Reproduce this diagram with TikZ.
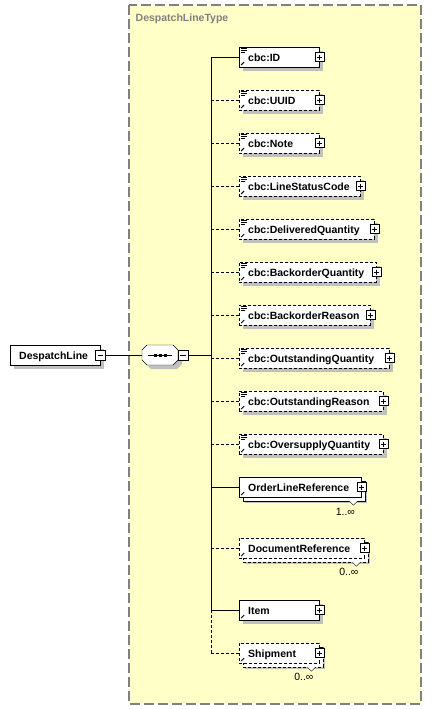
\documentclass[tikz,border=0pt]{standalone}
\usepackage{fontspec}
\setmainfont{Liberation Sans}
\usetikzlibrary{shadows}

\definecolor{typebg}{HTML}{FFFFC8}
\definecolor{typeline}{HTML}{808080}
\definecolor{shadowgray}{HTML}{C0C0C0}

\newcommand{\namefont}{\bfseries\fontsize{10.5}{12}\selectfont}
\newcommand{\multfont}{\fontsize{10.5}{12}\selectfont}
% small icons inside the boxes
\newcommand{\reficon}{%
  \draw[solid, line width=1pt] ([shift={(2,-2)}]path picture bounding box.south west) -- ++(3,-3);
  \fill ([shift={(7,-7)}]path picture bounding box.south west) -- ++(-3.5,0) -- ++(3.5,3.5) -- cycle;}
\newcommand{\docicon}{%
  \draw[solid, line width=0.8pt] ([shift={(2,1.5)}]path picture bounding box.north west) -- ++(6,0)
    ([shift={(2,3.5)}]path picture bounding box.north west) -- ++(6,0)
    ([shift={(2,5.5)}]path picture bounding box.north west) -- ++(4,0);}
\newcommand{\seqicon}{%
  \draw[solid] ([xshift=6pt]path picture bounding box.west) -- ([xshift=-6pt]path picture bounding box.east);
  \fill ([shift={(-6.5,-1.5)}]path picture bounding box.center) rectangle ++(3,3);
  \fill ([shift={(-1.5,-1.5)}]path picture bounding box.center) rectangle ++(3,3);
  \fill ([shift={(3.5,-1.5)}]path picture bounding box.center) rectangle ++(3,3);}

\tikzset{
  typeframe/.style={draw=typeline, fill=typebg, line width=1.2pt, dash pattern=on 10pt off 4pt},
  typename/.style={anchor=base west, inner sep=0pt, text=typeline, font=\namefont},
  namebox/.style={draw, fill=white, anchor=west, minimum height=20pt,
    inner xsep=9pt, inner ysep=0pt, align=left,
    text height=10pt, text depth=2pt, font=\namefont,
    general shadow={fill=shadowgray, shadow xshift=4pt, shadow yshift=-4pt}},
  elem/.style={namebox, text width=#1pt, path picture={\reficon},
    append after command={node[plusbox] at (\tikzlastnode.east) {}}},
  docelem/.style={elem=#1, path picture={\reficon\docicon}},
  multi/.style={general shadow={fill=shadowgray, shadow xshift=6pt, shadow yshift=-6pt},
    general shadow={draw, fill=white, shadow xshift=4pt, shadow yshift=-4pt}},
  opt/.style={dash pattern=on 3pt off 2pt},
  plusbox/.style={draw, solid, fill=white, minimum size=9pt, inner sep=0pt,
    path picture={\draw[solid] ([xshift=2pt]path picture bounding box.west) -- ([xshift=-2pt]path picture bounding box.east)
      ([yshift=-2pt]path picture bounding box.north) -- ([yshift=2pt]path picture bounding box.south);}},
  minusbox/.style={draw, solid, fill=white, minimum size=9.5pt, inner sep=0pt,
    path picture={\draw ([xshift=2pt]path picture bounding box.west) -- ([xshift=-2pt]path picture bounding box.east);}},
  seqline/.style={draw, fill=white,
    general shadow={fill=shadowgray, shadow xshift=4pt, shadow yshift=-4pt}},
  seqbox/.style={minimum width=36pt, minimum height=20pt, inner sep=0pt, path picture={\seqicon}},
  mult/.style={anchor=base, inner sep=0pt, font=\multfont},
  notch/.style={draw, solid, fill=white}
}

\begin{document}
\begin{tikzpicture}[x=1pt, y=-1pt]
  \useasboundingbox (0,0) rectangle (432,710);
  \draw[typeframe] (129,5) rectangle (421,704);
  \node[typename] (dltypename) at (135.5,21.5) {DespatchLineType};

  \node[namebox, text width=72pt] (dl) at (10,355) {DespatchLine};
  \node[minusbox] (dlmin) at (dl.east) {};

  % sequence compositor
  \coordinate (seqc) at (160,355);
  \path[seqline] ([shift={(-13,-10)}]seqc) -- ([shift={(13,-10)}]seqc) -- ++(5,5) -- ++(0,10)
    -- ++(-5,5) -- ([shift={(-13,10)}]seqc) -- ++(-5,-5) -- ++(0,-10) -- cycle;
  \node[seqbox] (seq) at (seqc) {};
  \node[minusbox, anchor=west] (seqmin) at (seq.east) {};
  \coordinate (spine) at (211,355);

  % children of the sequence
  \node[docelem=62] (id) at (239,57) {cbc:ID};
  \node[docelem=62, opt] (uuid) at (239,100) {cbc:UUID};
  \node[docelem=62, opt] (note) at (239,143) {cbc:Note};
  \node[docelem=103, opt] (lsc) at (239,186) {cbc:LineStatusCode};
  \node[docelem=117, opt] (dlvq) at (239,229) {cbc:DeliveredQuantity};
  \node[docelem=119, opt] (bkq) at (239,272) {cbc:BackorderQuantity};
  \node[docelem=113, opt] (bkr) at (239,315) {cbc:BackorderReason};
  \node[docelem=132, opt] (outq) at (239,358) {cbc:OutstandingQuantity};
  \node[docelem=126, opt] (outr) at (239,401) {cbc:OutstandingReason};
  \node[docelem=126, opt] (ovsq) at (239,444) {cbc:OversupplyQuantity};
  \node[elem=104, multi] (olr) at (239,487) {OrderLineReference};
  \node[elem=107, multi, opt] (docref) at (239,548) {DocumentReference};
  \node[elem=62] (item) at (239,610) {Item};
  \node[elem=62, multi, opt] (shipm) at (239,653) {Shipment};

  % connectors
  \draw (dlmin.east) -- (seq.west);
  \draw (seqmin.east) -- (seqmin.east -| spine);
  \draw (spine |- id.west) -- (spine |- item.west);
  \draw[opt] (spine |- item.west) -- (spine |- shipm.west);
  \draw (spine |- id.west) -- (id.west);
  \draw[opt] (spine |- uuid.west) -- (uuid.west);
  \draw[opt] (spine |- note.west) -- (note.west);
  \draw[opt] (spine |- lsc.west) -- (lsc.west);
  \draw[opt] (spine |- dlvq.west) -- (dlvq.west);
  \draw[opt] (spine |- bkq.west) -- (bkq.west);
  \draw[opt] (spine |- bkr.west) -- (bkr.west);
  \draw[opt] (spine |- outq.west) -- (outq.west);
  \draw[opt] (spine |- outr.west) -- (outr.west);
  \draw[opt] (spine |- ovsq.west) -- (ovsq.west);
  \draw (spine |- olr.west) -- (olr.west);
  \draw[opt] (spine |- docref.west) -- (docref.west);
  \draw (spine |- item.west) -- (item.west);
  \draw[opt] (spine |- shipm.west) -- (shipm.west);

  % occurrences
  \draw[notch] ([shift={(-12,4)}]olr.south east) -- ++(4,4) -- ++(4,-4);
  \node[mult] (olrmult) at ([shift={(-16,18)}]olr.south east) {1..∞};
  \draw[notch] ([shift={(-12,4)}]docref.south east) -- ++(4,4) -- ++(4,-4);
  \node[mult] (docrefmult) at ([shift={(-15.5,17.5)}]docref.south east) {0..∞};
  \draw[notch] ([shift={(-12,4)}]shipm.south east) -- ++(4,4) -- ++(4,-4);
  \node[mult] (shipmmult) at ([shift={(-15.5,17.5)}]shipm.south east) {0..∞};
\end{tikzpicture}
\end{document}
